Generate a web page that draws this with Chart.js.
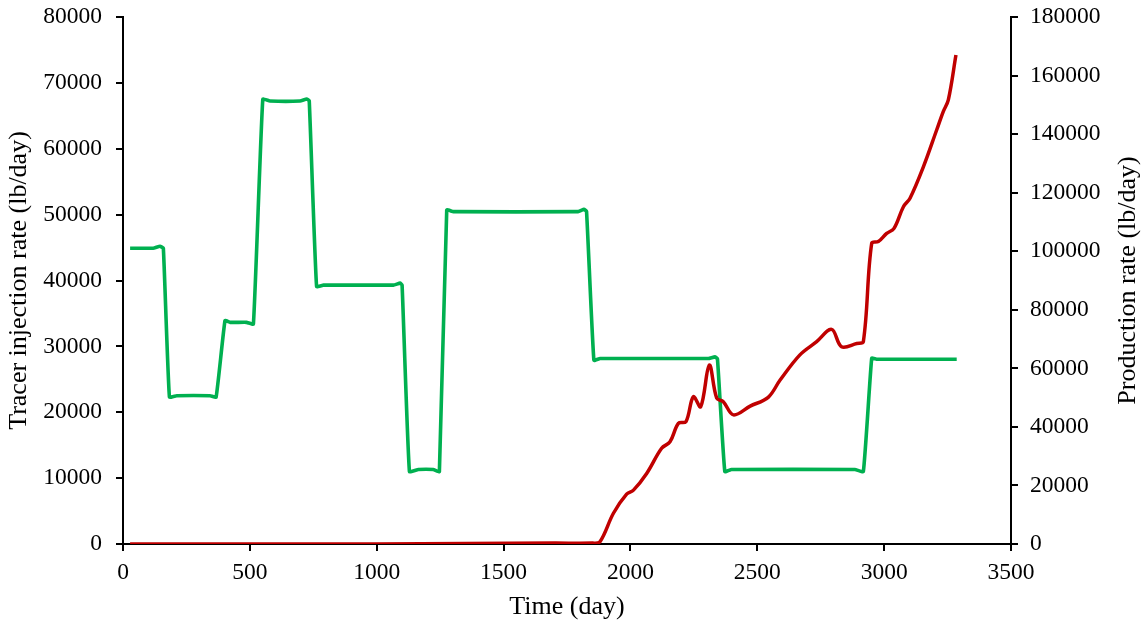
<!DOCTYPE html>
<html>
<head>
<meta charset="utf-8">
<title>Tracer injection and production rate</title>
<script src="https://cdn.jsdelivr.net/npm/chart.js@4.4.1/dist/chart.umd.min.js"></script>
<style>
  html, body { margin: 0; padding: 0; background: #ffffff; }
  canvas { display: block; }
</style>
</head>
<body>
<canvas id="chart" width="1147" height="628"></canvas>
<script>
// Tracer injection schedule (left axis, lb/day)
const injectionDays = [28, 119, 146, 159, 183, 212, 343, 367, 402, 422, 487, 514, 551, 579, 698, 724, 734,
  763, 790, 1066, 1092, 1100, 1129, 1164, 1223, 1247, 1276, 1302, 1794, 1817, 1827, 1856, 1880,
  2307, 2333, 2343, 2372, 2398, 2885, 2918, 2951, 2970, 3286];
const injectionRate = [44900, 44900, 45200, 44900, 22300, 22500, 22500, 22300, 33900, 33650, 33650, 33400, 67500, 67250, 67250, 67550, 67300,
  39100, 39300, 39300, 39600, 39300, 11000, 11300, 11300, 11000, 50700, 50450, 50450, 50800, 50500, 27900, 28150,
  28150, 28400, 28100, 11000, 11300, 11300, 11000, 28200, 28050, 28050];

// Tracer production rate (right axis, lb/day)
const productionDays = [28, 1000, 1700, 1850, 1880, 1933, 1985, 2012, 2064, 2123, 2156, 2189, 2219, 2248, 2277,
  2311, 2340, 2366, 2406, 2472, 2543, 2590, 2668, 2734, 2793, 2832, 2892, 2918, 2951, 2977, 3010, 3039,
  3076, 3102, 3155, 3207, 3233, 3253, 3283];
const productionRate = [0, 0, 300, 300, 800, 10500, 17000, 18400, 24100, 32700, 34900, 41200, 41800, 50300, 46900,
  61100, 49800, 48600, 44100, 47100, 50100, 56000, 64600, 69100, 73300, 67400, 68500, 69100, 102700, 103300, 106100, 107800,
  115200, 118100, 128900, 141400, 147700, 151700, 167000];

// Axis tick values
const timeTicks = [0, 500, 1000, 1500, 2000, 2500, 3000, 3500];
const injectionTicks = [0, 10000, 20000, 30000, 40000, 50000, 60000, 70000, 80000];
const productionTicks = [0, 20000, 40000, 60000, 80000, 100000, 120000, 140000, 160000, 180000];

const toPoints = (xs, ys) => xs.map((x, i) => ({ x: x, y: ys[i] }));
const fixedTicks = values => scale => { scale.ticks = values.map(v => ({ value: v })); };

Chart.defaults.font.family = '"Liberation Serif", "Times New Roman", Times, serif';
Chart.defaults.color = '#000000';

const TICK_FONT = { size: 23.5 };
const TITLE_FONT = { size: 26 };

const axisGrid = {
  display: true,
  drawOnChartArea: false,
  drawTicks: true,
  tickLength: 7,
  color: '#000000',
  lineWidth: 2
};
const axisBorder = { display: true, color: '#000000', width: 2 };

// Fixed box sizes for the axes so the plot area keeps a constant frame
const sideAxisFit = width => s => {
  s.width = width;
  s.paddingTop = 0;
  s.paddingBottom = 0;
};
const bottomAxisFit = height => s => {
  s.height = height;
  s.paddingLeft = 0;
  s.paddingRight = 0;
};

// Right-hand axis title, written bottom-to-top like the left one
const rightAxisTitle = {
  id: 'rightAxisTitle',
  afterDraw(chart) {
    const { ctx, chartArea } = chart;
    ctx.save();
    ctx.translate(chart.width - 19, (chartArea.top + chartArea.bottom) / 2);
    ctx.rotate(-Math.PI / 2);
    ctx.font = TITLE_FONT.size + 'px ' + Chart.defaults.font.family;
    ctx.fillStyle = '#000000';
    ctx.textAlign = 'center';
    ctx.textBaseline = 'middle';
    ctx.fillText('Production rate (lb/day)', 0, 0);
    ctx.restore();
  }
};

new Chart(document.getElementById('chart'), {
  type: 'line',
  data: {
    datasets: [
      {
        label: 'Production rate',
        data: toPoints(productionDays, productionRate),
        yAxisID: 'yProd',
        borderColor: '#C00000',
        borderWidth: 3.5,
        pointRadius: 0,
        tension: 0.35,
        fill: false
      },
      {
        label: 'Tracer injection rate',
        data: toPoints(injectionDays, injectionRate),
        yAxisID: 'yInj',
        borderColor: '#00B050',
        borderWidth: 3.6,
        pointRadius: 0,
        tension: 0.12,
        fill: false
      }
    ]
  },
  options: {
    responsive: false,
    animation: false,
    devicePixelRatio: 1,
    layout: { padding: { top: 17, left: 0, right: 0, bottom: 0 } },
    plugins: {
      legend: { display: false },
      tooltip: { enabled: false }
    },
    scales: {
      x: {
        type: 'linear',
        position: 'bottom',
        min: 0,
        max: 3500,
        afterBuildTicks: fixedTicks(timeTicks),
        afterFit: bottomAxisFit(84),
        grid: axisGrid,
        border: axisBorder,
        ticks: {
          font: TICK_FONT,
          padding: 8,
          maxRotation: 0,
          callback: v => String(v)
        },
        title: {
          display: true,
          text: 'Time (day)',
          font: TITLE_FONT,
          padding: { top: 0, bottom: 5 }
        }
      },
      yInj: {
        type: 'linear',
        position: 'left',
        min: 0,
        max: 80000,
        afterBuildTicks: fixedTicks(injectionTicks),
        afterFit: sideAxisFit(123),
        grid: axisGrid,
        border: axisBorder,
        ticks: {
          font: TICK_FONT,
          padding: 14,
          callback: v => String(v)
        },
        title: {
          display: true,
          text: 'Tracer injection rate (lb/day)',
          font: TITLE_FONT,
          padding: { top: 4, bottom: 0 }
        }
      },
      yProd: {
        type: 'linear',
        position: 'right',
        min: 0,
        max: 180000,
        afterBuildTicks: fixedTicks(productionTicks),
        afterFit: sideAxisFit(136),
        grid: axisGrid,
        border: axisBorder,
        ticks: {
          font: TICK_FONT,
          padding: 12,
          callback: v => String(v)
        },
        title: { display: false }
      }
    }
  },
  plugins: [rightAxisTitle]
});
</script>
</body>
</html>
